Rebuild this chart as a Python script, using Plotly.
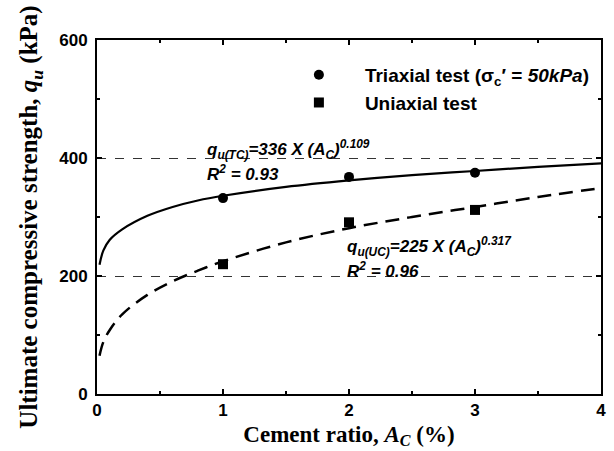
import plotly.graph_objects as go

# Measured data
cement_ratio = [1, 2, 3]
triaxial_qu = [332, 368, 375]
uniaxial_qu = [220, 291, 312]

# Fitted curves
fit_x = [0.02, 0.05, 0.1, 0.2, 0.4, 0.6, 0.8, 1.0, 1.5, 2.0, 2.5, 3.0, 3.5, 4.0]
fit_tc = [219, 243, 261, 279, 302, 317, 328, 336, 351, 362, 371, 378, 385, 391]
fit_uc = [65, 88, 108, 135, 168, 191, 209, 225, 257, 281, 300, 317, 334, 349]

x_ticks = [0, 1, 2, 3, 4]
y_ticks = [0, 200, 400, 600]

fig = go.Figure()
fig.add_trace(go.Scatter(x=fit_x, y=fit_tc, mode="lines", line=dict(color="black", width=2.2, shape="spline"),
                         showlegend=False, hoverinfo="skip"))
fig.add_trace(go.Scatter(x=fit_x, y=fit_uc, mode="lines", line=dict(color="black", width=2.5, dash="14px,8px", shape="spline"),
                         showlegend=False, hoverinfo="skip"))
fig.add_trace(go.Scatter(x=cement_ratio, y=triaxial_qu, mode="markers",
                         marker=dict(symbol="circle", size=10, color="black"),
                         name="<b>Triaxial test (σ<sub>c</sub>′ = <i>50kPa</i>)</b>"))
fig.add_trace(go.Scatter(x=cement_ratio, y=uniaxial_qu, mode="markers",
                         marker=dict(symbol="square", size=10, color="black"),
                         name="<b>Uniaxial test</b>"))

ann_font = dict(family="Liberation Sans, Arial", size=17, color="black")
fig.add_annotation(x=0.86, y=414, xanchor="left", yanchor="middle", showarrow=False,
                   text="<b><i>q<sub>u(TC)</sub>=336 X (A<sub>C</sub>)<sup>0.109</sup></i></b>", font=ann_font)
fig.add_annotation(x=0.86, y=374, xanchor="left", yanchor="middle", showarrow=False,
                   text="<b><i>R<sup>2</sup> = 0.93</i></b>", font=ann_font)
fig.add_annotation(x=1.97, y=250, xanchor="left", yanchor="middle", showarrow=False,
                   text="<b><i>q<sub>u(UC)</sub>=225 X (A<sub>C</sub>)<sup>0.317</sup></i></b>", font=ann_font)
fig.add_annotation(x=1.97, y=210, xanchor="left", yanchor="middle", showarrow=False,
                   text="<b><i>R<sup>2</sup> = 0.96</i></b>", font=ann_font)

tick_font = dict(family="Liberation Sans, Arial", size=17, color="black")

fig.update_xaxes(range=[0, 4], tickvals=x_ticks, ticktext=["<b>%s</b>" % v for v in x_ticks],
                 ticks="inside", ticklen=5, tickwidth=1.5, tickcolor="black",
                 minor=dict(dtick=0.5, ticks="inside", ticklen=3, tickcolor="black"),
                 showline=True, linecolor="black", linewidth=2, mirror="ticks",
                 showgrid=False, zeroline=False, tickfont=tick_font, automargin=False,
                 title=dict(text="<b>Cement ratio, <i>A<sub>C</sub></i> (%)</b>",
                            font=dict(family="Liberation Serif, Times New Roman", size=23, color="black"),
                            standoff=6))
fig.update_yaxes(range=[0, 600], tickvals=y_ticks, ticktext=["<b>%s</b>" % v for v in y_ticks],
                 ticks="inside", ticklen=5, tickwidth=1.5, tickcolor="black",
                 minor=dict(dtick=100, ticks="inside", ticklen=3, tickcolor="black"),
                 showline=True, linecolor="black", linewidth=2, mirror="ticks",
                 showgrid=True, gridcolor="#333", gridwidth=1, griddash="dash",
                 zeroline=False, tickfont=tick_font, automargin=False, ticklabelstandoff=4,
                 title=dict(text="<b>Ultimate compressive strength, <i>q<sub>u</sub></i> (kPa)</b>",
                            font=dict(family="Liberation Serif, Times New Roman", size=25, color="black"),
                            standoff=14))

fig.update_layout(width=614, height=451, margin=dict(l=97, r=13, t=40, b=57, autoexpand=False),
                  plot_bgcolor="white", paper_bgcolor="white",
                  legend=dict(x=0.349, y=0.955, xanchor="left", yanchor="top", bgcolor="rgba(0,0,0,0)",
                              font=dict(family="Liberation Sans, Arial", size=19, color="black"),
                              itemwidth=82, tracegroupgap=0))

fig.write_html("out.html")
